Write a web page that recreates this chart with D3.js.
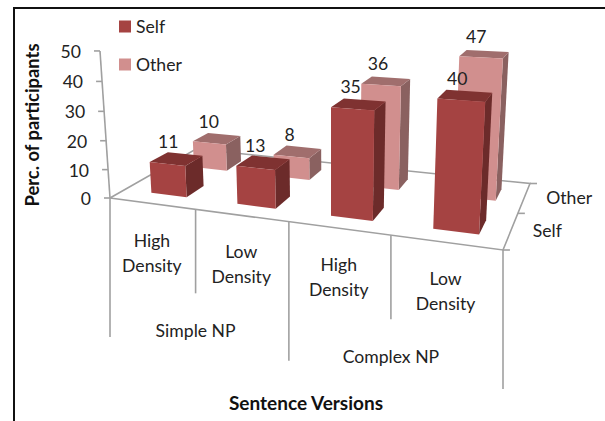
<!doctype html>
<html>
  <head>
    <meta charset="utf-8">
    <script src="https://cdnjs.cloudflare.com/ajax/libs/d3/7.8.5/d3.min.js"></script>
    <style>
      body { margin: 0; background: #fff; }
      svg { display: block; }
      text { font-family: Lato, "Open Sans", sans-serif; font-size: 17.6px; fill: #222; }
      .title { font-weight: bold; font-size: 18.4px; fill: #111; }
      .axis-line { stroke: #a0a0a0; stroke-width: 1.6px; fill: none; }
    </style>
  </head>
  <body>
    <svg width="605" height="421"></svg>
    <script>
      const categories = ["High Density", "Low Density", "High Density ", "Low Density "];
      const groups = ["Simple NP", "Complex NP"];
      const depths = ["Self", "Other"];
      const selfValues = [11, 13, 35, 40];
      const otherValues = [10, 8, 36, 47];
      const valueTicks = [0, 10, 20, 30, 40, 50];

      const colors = {
        Self: { front: "#a54342", top: "#7f3231", side: "#6c2b2a" },
        Other: { front: "#d18f8e", top: "#a06e6d", side: "#8a6160" }
      };

      const svg = d3.select("svg");

      // floor corners on screen, the rest of the box comes from the projection
      const floor = { x0: 110, y0: 198, x1: 503, y1: 250, x2: 530, y2: 183.5, x3: 196, y3: 149 };
      const vanish = { x: 331, y: 3447 };

      const sx = floor.x0 - floor.x1 + floor.x2 - floor.x3;
      const sy = floor.y0 - floor.y1 + floor.y2 - floor.y3;
      const dx1 = floor.x1 - floor.x2, dx2 = floor.x3 - floor.x2;
      const dy1 = floor.y1 - floor.y2, dy2 = floor.y3 - floor.y2;
      const den = dx1 * dy2 - dx2 * dy1;
      const g = (sx * dy2 - dx2 * sy) / den;
      const h = (dx1 * sy - sx * dy1) / den;

      const uScale = d3.scaleBand().domain(categories).range([0, 1]).paddingInner(0.58).paddingOuter(0.29).align(0.56);
      const uEdge = d3.scaleBand().domain(categories).range([0, 1]);
      const vScale = d3.scaleBand().domain(depths).range([0, 1]).paddingInner(0.6).paddingOuter(0.3);
      const vEdge = d3.scaleBand().domain(depths).range([0, 1]);
      const hScale = d3.scaleLinear().domain([0, 50]).range([0, -0.0433]);

      function project(u, v, val) {
        const t = hScale(val);
        const X = floor.x0 + (floor.x1 - floor.x0 + g * floor.x1) * u + (floor.x3 - floor.x0 + h * floor.x3) * v;
        const Y = floor.y0 + (floor.y1 - floor.y0 + g * floor.y1) * u + (floor.y3 - floor.y0 + h * floor.y3) * v;
        const W = 1 + g * u + h * v;
        return [(X + t * vanish.x) / (W + t), (Y + t * vanish.y) / (W + t)];
      }

      function poly(points) {
        return d3.line()(points);
      }

      // frame
      svg.append("path").attr("d", "M14,421V8H605").attr("fill", "none").attr("stroke", "#111").attr("stroke-width", 2);

      // floor edges
      svg.append("path").attr("class", "axis-line")
        .attr("d", poly([project(0, 0, 0), project(0, 1, 0), project(1, 1, 0), project(1, 0, 0), project(0, 0, 0)]));

      // value axis
      svg.append("path").attr("class", "axis-line")
        .attr("d", poly([project(0, 0, 0), project(0, 0, 50)]));
      valueTicks.forEach(d => {
        const p = project(0, 0, d);
        svg.append("line").attr("class", "axis-line")
          .attr("x1", p[0] - 6).attr("x2", p[0]).attr("y1", p[1]).attr("y2", p[1]);
        svg.append("text").attr("x", p[0] - 19).attr("y", p[1] + 7)
          .attr("text-anchor", "end").text(d);
      });

      // bars, back row first
      function drawBar(name, cat, val) {
        const u0 = uScale(cat), u1 = u0 + uScale.bandwidth();
        const v0 = vScale(name), v1 = v0 + vScale.bandwidth();
        const c = colors[name];
        const bar = svg.append("g").attr("class", "bar");
        bar.append("path").attr("fill", c.side)
          .attr("d", poly([project(u1, v0, 0), project(u1, v1, 0), project(u1, v1, val), project(u1, v0, val)]) + "Z");
        bar.append("path").attr("fill", c.top)
          .attr("d", poly([project(u0, v0, val), project(u1, v0, val), project(u1, v1, val), project(u0, v1, val)]) + "Z");
        bar.append("path").attr("fill", c.front)
          .attr("d", poly([project(u0, v0, 0), project(u1, v0, 0), project(u1, v0, val), project(u0, v0, val)]) + "Z");
      }
      function drawLabel(name, cat, val) {
        const p = project(uScale(cat) + uScale.bandwidth() / 2, vScale(name) + vScale.bandwidth() / 2, val);
        svg.append("text").attr("x", p[0] - 8).attr("y", p[1] - 11)
          .attr("text-anchor", "middle").text(val);
      }
      categories.forEach((cat, i) => drawBar("Other", cat, otherValues[i]));
      categories.forEach((cat, i) => drawBar("Self", cat, selfValues[i]));
      categories.forEach((cat, i) => {
        drawLabel("Other", cat, otherValues[i]);
        drawLabel("Self", cat, selfValues[i]);
      });

      // depth axis ticks and names
      [0, 0.5, 1].forEach(v => {
        const p = project(1, v, 0);
        svg.append("line").attr("class", "axis-line")
          .attr("x1", p[0]).attr("x2", p[0] + 7).attr("y1", p[1]).attr("y2", p[1]);
      });
      depths.forEach(d => {
        const p = project(1, vEdge(d) + vEdge.bandwidth() / 2, 0);
        svg.append("text").attr("x", p[0] + 22).attr("y", p[1] + 6).text(d);
      });

      // category dividers and labels under the floor
      const shortTick = 84, longTick = 139;
      const edges = d3.range(categories.length + 1).map(i => i / categories.length);
      edges.forEach((u, i) => {
        const p = project(u, 0, 0);
        const len = i % 2 === 0 ? longTick : shortTick;
        svg.append("line").attr("class", "axis-line")
          .attr("x1", p[0]).attr("x2", p[0]).attr("y1", p[1]).attr("y2", p[1] + len);
      });
      categories.forEach(cat => {
        const mid = project(uEdge(cat) + uEdge.bandwidth() / 2, 0, 0);
        const words = cat.trim().split(" ");
        words.forEach((w, j) => {
          svg.append("text").attr("x", mid[0]).attr("y", mid[1] + 43 + j * 25)
            .attr("text-anchor", "middle").text(w);
        });
      });
      groups.forEach((grp, i) => {
        const mid = project((i + 0.5) / groups.length, 0, 0);
        svg.append("text").attr("x", mid[0]).attr("y", mid[1] + 128)
          .attr("text-anchor", "middle").text(grp);
      });

      // legend
      const legendY = d3.scalePoint().domain(depths).range([26.5, 64.5]);
      depths.forEach(d => {
        svg.append("rect").attr("x", 119).attr("y", legendY(d) - 6).attr("width", 12).attr("height", 12)
          .attr("fill", colors[d].front);
        svg.append("text").attr("x", 136).attr("y", legendY(d) + 6).text(d);
      });

      // titles
      svg.append("text").attr("class", "title").attr("transform", "translate(39,125) rotate(-90)")
        .attr("text-anchor", "middle").text("Perc. of participants");
      svg.append("text").attr("class", "title").attr("x", 306).attr("y", 410)
        .attr("text-anchor", "middle").style("font-size", "19px").text("Sentence Versions");
    </script>
  </body>
</html>
